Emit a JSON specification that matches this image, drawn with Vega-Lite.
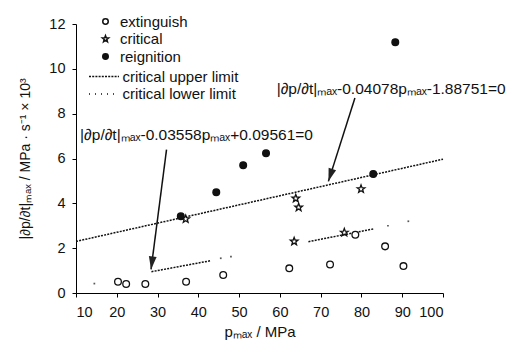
{
  "$schema": "https://vega.github.io/schema/vega-lite/v6.json",
  "width": 367,
  "height": 269,
  "autosize": {"type": "none"},
  "padding": {"left": 76, "top": 24, "right": 84, "bottom": 48},
  "background": "white",
  "config": {
    "view": {"stroke": null},
    "font": "Liberation Sans",
    "axis": {"domainColor": "#000", "tickColor": "#000", "labelColor": "#111", "titleColor": "#111", "grid": false, "labelFont": "Liberation Sans", "titleFont": "Liberation Sans", "labelFontSize": 14.5, "titleFontSize": 15, "titleFontWeight": "normal", "tickSize": 4},
    "legend": {"labelFont": "Liberation Sans", "labelFontSize": 15, "labelColor": "#111", "padding": 0}
  },
  "datasets": {
    "pts": [
      {"p": 20.3, "v": 0.5, "type": "extinguish"},
      {"p": 22.3, "v": 0.4, "type": "extinguish"},
      {"p": 27.0, "v": 0.4, "type": "extinguish"},
      {"p": 37.0, "v": 0.5, "type": "extinguish"},
      {"p": 46.1, "v": 0.8, "type": "extinguish"},
      {"p": 62.3, "v": 1.1, "type": "extinguish"},
      {"p": 72.3, "v": 1.27, "type": "extinguish"},
      {"p": 78.5, "v": 2.6, "type": "extinguish"},
      {"p": 85.8, "v": 2.08, "type": "extinguish"},
      {"p": 90.3, "v": 1.2, "type": "extinguish"},
      {"p": 36.9, "v": 3.3, "type": "critical"},
      {"p": 63.9, "v": 4.22, "type": "critical"},
      {"p": 64.6, "v": 3.82, "type": "critical"},
      {"p": 63.5, "v": 2.3, "type": "critical"},
      {"p": 75.8, "v": 2.7, "type": "critical"},
      {"p": 79.9, "v": 4.64, "type": "critical"},
      {"p": 35.7, "v": 3.42, "type": "reignition"},
      {"p": 44.4, "v": 4.49, "type": "reignition"},
      {"p": 51.0, "v": 5.7, "type": "reignition"},
      {"p": 56.6, "v": 6.23, "type": "reignition"},
      {"p": 88.3, "v": 11.19, "type": "reignition"},
      {"p": 82.9, "v": 5.31, "type": "reignition"}
    ],
    "upper": [
      {"p": 10, "v": 2.3, "series": "critical upper limit"},
      {"p": 100, "v": 5.97, "series": "critical upper limit"}
    ],
    "lowerSeg": [
      {"p": 28.5, "v": 0.95, "seg": "a"},
      {"p": 43, "v": 1.44, "seg": "a"},
      {"p": 67, "v": 2.29, "seg": "b"},
      {"p": 83, "v": 2.86, "seg": "b"}
    ],
    "lowerDots": [
      {"p": 14.5, "v": 0.42},
      {"p": 45.5, "v": 1.55},
      {"p": 48, "v": 1.62},
      {"p": 86.5, "v": 3.0},
      {"p": 91.5, "v": 3.2}
    ],
    "arrows": [
      {"p": 32.2, "v": 6.4, "p2": 28.4, "v2": 1.05, "ang": 7.6},
      {"p": 78.4, "v": 8.7, "p2": 71.9, "v2": 4.98, "ang": 17.6}
    ],
    "notes": [
      {"p": 11, "v": 7.07, "label": "|∂p/∂t|ₘₐₓ-0.03558pₘₐₓ+0.09561=0"},
      {"p": 59.2, "v": 9.08, "label": "|∂p/∂t|ₘₐₓ-0.04078pₘₐₓ-1.88751=0"}
    ]
  },
  "layer": [
    {
      "data": {"name": "upper"},
      "mark": {"type": "line", "strokeWidth": 1.5, "color": "#111"},
      "encoding": {
        "x": {"field": "p", "type": "quantitative", "scale": {"domain": [10, 100], "nice": false}, "axis": {"values": [10,20,30,40,50,60,70,80,90,100], "title": "pₘₐₓ / MPa", "labelPadding": 8, "titlePadding": 6}},
        "y": {"field": "v", "type": "quantitative", "scale": {"domain": [0, 12], "nice": false}, "axis": {"values": [0,2,4,6,8,10,12], "title": "|∂p/∂t|ₘₐₓ / MPa · s⁻¹ × 10³", "titleFontSize": 14, "labelPadding": 7, "titlePadding": 16}},
        "strokeDash": {"field": "series", "type": "nominal", "scale": {"domain": ["critical upper limit", "critical lower limit"], "range": [[2, 1.2], [1, 5]]}, "legend": {"title": null, "orient": "none", "legendX": 20.5, "legendY": 45, "symbolType": "M-6,0L6,0", "symbolSize": 25, "symbolStrokeColor": "#111", "symbolStrokeWidth": 1.3, "labelOffset": 11, "rowPadding": 1.5}}
      }
    },
    {
      "data": {"name": "lowerSeg"},
      "mark": {"type": "line", "strokeWidth": 1.5, "color": "#111", "strokeDash": [2, 1.2]},
      "encoding": {
        "x": {"field": "p", "type": "quantitative"},
        "y": {"field": "v", "type": "quantitative"},
        "detail": {"field": "seg"}
      }
    },
    {
      "data": {"name": "lowerDots"},
      "mark": {"type": "point", "shape": "square", "filled": true, "size": 3, "color": "#111"},
      "encoding": {
        "x": {"field": "p", "type": "quantitative"},
        "y": {"field": "v", "type": "quantitative"}
      }
    },
    {
      "data": {"name": "pts"},
      "mark": {"type": "point", "stroke": "#111", "strokeWidth": 1.3, "opacity": 1, "size": 45},
      "encoding": {
        "x": {"field": "p", "type": "quantitative"},
        "y": {"field": "v", "type": "quantitative"},
        "shape": {"field": "type", "type": "nominal", "scale": {"domain": ["extinguish", "critical", "reignition"], "range": ["circle", "M0,-1.2L0.296,-0.408L1.141,-0.371L0.479,0.156L0.706,0.971L0,0.504L-0.706,0.971L-0.479,0.156L-1.141,-0.371L-0.296,-0.408Z", "circle"]}, "legend": {"title": null, "orient": "none", "legendX": 22, "legendY": -10, "symbolSize": 30, "labelOffset": 7, "rowPadding": 1.5, "encode": {"symbols": {"update": {"stroke": {"value": "#111"}, "strokeWidth": {"value": 1.2}}}}}},
        "fill": {"field": "type", "type": "nominal", "scale": {"domain": ["extinguish", "critical", "reignition"], "range": ["#ffffff", "#ffffff", "#111111"]}, "legend": {"title": null, "orient": "none", "legendX": 22, "legendY": -10, "symbolSize": 30, "labelOffset": 7, "rowPadding": 1.5, "encode": {"symbols": {"update": {"stroke": {"value": "#111"}, "strokeWidth": {"value": 1.2}}}}}}
      }
    },
    {
      "data": {"name": "arrows"},
      "mark": {"type": "rule", "strokeWidth": 1.5, "color": "#111"},
      "encoding": {
        "x": {"field": "p", "type": "quantitative"},
        "y": {"field": "v", "type": "quantitative"},
        "x2": {"field": "p2"},
        "y2": {"field": "v2"}
      }
    },
    {
      "data": {"name": "arrows"},
      "mark": {"type": "point", "shape": "M-0.6,-2L0.6,-2L0,0Z", "filled": true, "size": 169, "color": "#222", "opacity": 1},
      "encoding": {
        "x": {"field": "p2", "type": "quantitative"},
        "y": {"field": "v2", "type": "quantitative"},
        "angle": {"field": "ang", "type": "quantitative", "scale": null}
      }
    },
    {
      "data": {"name": "notes"},
      "mark": {"type": "text", "align": "left", "baseline": "middle", "fontSize": 15.5, "color": "#111", "font": "Liberation Sans"},
      "encoding": {
        "x": {"field": "p", "type": "quantitative"},
        "y": {"field": "v", "type": "quantitative"},
        "text": {"field": "label"}
      }
    }
  ]
}
